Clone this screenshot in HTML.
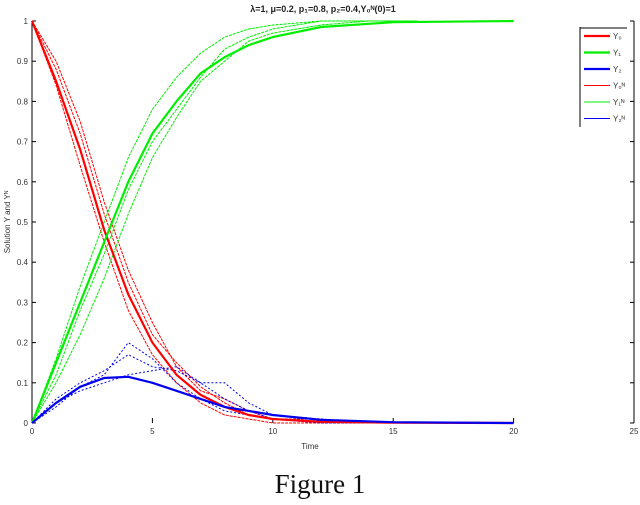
<!DOCTYPE html>
<html><head><meta charset="utf-8">
<style>
body{margin:0;background:#fff;}
svg text{font-family:"Liberation Sans",sans-serif;}
</style></head>
<body>
<svg id="chart" width="640" height="500" viewBox="0 0 640 500" xmlns="http://www.w3.org/2000/svg">
<text x="323" y="12" font-size="9" text-anchor="middle" font-weight="bold" fill="#222">λ=1, μ=0.2, p₁=0.8, p₂=0.4,Y₀ᴺ(0)=1</text>
<text x="320" y="493" font-size="27" text-anchor="middle" fill="#111" style="font-family:'Liberation Serif',serif">Figure 1</text>
<text x="310" y="449" font-size="8" text-anchor="middle" fill="#333">Time</text>
<text x="10" y="222" font-size="8" text-anchor="middle" fill="#333" transform="rotate(-90 10 222)">Solution Y and Yᴺ</text>
<g id="axes"></g>
<g id="series"></g>
<g id="legend"></g>
</svg>
<script>
const times=[0,1,2,3,4,5,6,7,8,9,10,12,15,20];
const y0=[1,0.85,0.68,0.48,0.32,0.2,0.12,0.07,0.04,0.02,0.01,0.003,0.001,0];
const y1=[0,0.15,0.3,0.45,0.6,0.72,0.8,0.87,0.91,0.94,0.96,0.985,0.997,1];
const y2=[0,0.05,0.09,0.112,0.115,0.1,0.08,0.06,0.04,0.03,0.02,0.008,0.002,0];
const stochTimes=[0,1,2,3,4,5,6,7,8,9,10,12,14,16];
const y0N=[[1,0.88,0.72,0.52,0.35,0.22,0.15,0.09,0.05,0.02,0.01,0,0,0],[1,0.84,0.64,0.45,0.28,0.17,0.1,0.05,0.02,0.01,0,0,0,0],[1,0.9,0.75,0.55,0.38,0.25,0.14,0.08,0.06,0.03,0.01,0.01,0,0]];
const y1N=[[0,0.12,0.28,0.42,0.58,0.7,0.78,0.86,0.93,0.96,0.98,1,1,1],[0,0.1,0.22,0.36,0.52,0.66,0.76,0.85,0.9,0.95,0.97,0.99,1,1],[0,0.16,0.34,0.5,0.66,0.78,0.86,0.92,0.96,0.98,0.99,1,1,1]];
const y2N=[[0,0.06,0.1,0.13,0.17,0.14,0.13,0.1,0.1,0.05,0.02,0.01,0,0],[0,0.04,0.09,0.12,0.2,0.16,0.1,0.06,0.03,0.02,0.01,0,0,0],[0,0.05,0.08,0.1,0.12,0.13,0.14,0.1,0.06,0.03,0.01,0.005,0,0]];
const xTicks=[0,5,10,15,20,25];
const yTicks=[0,0.1,0.2,0.3,0.4,0.5,0.6,0.7,0.8,0.9,1];
const legendLabels=["Y₀","Y₁","Y₂","Y₀ᴺ","Y₁ᴺ","Y₂ᴺ"];
const legendColors=["#f00","#0e0","#00e","#f00","#0e0","#00e"];
const legendWidths=[2.2,2.2,2.2,1,1,1];

const X0=32,X1=634,Y0p=423,Y1p=21;
const sx=v=>X0+(X1-X0)*v/25;
const sy=v=>Y0p-(Y0p-Y1p)*v;
const NS="http://www.w3.org/2000/svg";
function mk(tag,attrs,parent){const e=document.createElementNS(NS,tag);for(const k in attrs)e.setAttribute(k,attrs[k]);parent.appendChild(e);return e;}
const axes=document.getElementById('axes');
let l=mk('line',{x1:X0,y1:Y0p,x2:X0,y2:Y1p,stroke:'#000','stroke-width':1},axes);


l=mk('line',{x1:X1,y1:Y0p,x2:X1,y2:Y1p,stroke:'#000','stroke-width':1},axes);


xTicks.forEach(t=>{
  const tk=mk('line',{x1:sx(t),y1:Y0p,x2:sx(t),y2:Y0p-5,stroke:'#000'},axes);
  
  
  const tx=mk('text',{x:sx(t),y:Y0p+11,'font-size':8,'text-anchor':'middle',fill:'#333'},axes);
  tx.textContent=t;
  
  
});
yTicks.forEach(t=>{
  const tk=mk('line',{x1:X0,y1:sy(t),x2:X0+4,y2:sy(t),stroke:'#000'},axes);
  
  
  const tk2=mk('line',{x1:X1,y1:sy(t),x2:X1-4,y2:sy(t),stroke:'#000'},axes);
  
  
  const tx=mk('text',{x:X0-4,y:sy(t)+3,'font-size':8,'text-anchor':'end',fill:'#333'},axes);
  tx.textContent=t;
  
  
});
const ser=document.getElementById('series');
function path(ts,vs,color,w,dash,name){
  let d='';ts.forEach((t,i)=>{d+=(i?'L':'M')+sx(t).toFixed(1)+','+sy(vs[i]).toFixed(1);});
  const p=mk('path',{d:d,fill:'none',stroke:color,'stroke-width':w},ser);
  if(dash)p.setAttribute('stroke-dasharray',dash);
  
  
}
y0N.forEach(v=>path(stochTimes,v,'#f00',1,'3,1','y0n-realization'));
y1N.forEach(v=>path(stochTimes,v,'#0e0',1,'3,1','y1n-realization'));
y2N.forEach(v=>path(stochTimes,v,'#00e',1,'2,2','y2n-realization'));
path(times,y0,'#f00',2.2,null,'y0-line');
path(times,y1,'#0e0',2.2,null,'y1-line');
path(times,y2,'#00e',2.2,null,'y2-line');
const lg=document.getElementById('legend');
mk('path',{d:'M580,27 L580,127',stroke:'#000',fill:'none'},lg);
mk('line',{x1:580,y1:28,x2:627,y2:28,stroke:'#000'},lg);
legendLabels.forEach((lab,i)=>{
  const y=36+i*16.5;
  const ln=mk('line',{x1:584,y1:y,x2:610,y2:y,stroke:legendColors[i],'stroke-width':legendWidths[i]},lg);
  
  
  const tx=mk('text',{x:613,y:y+3,'font-size':8,fill:'#333'},lg);
  tx.textContent=lab;
  
  
});
</script>
</body></html>
